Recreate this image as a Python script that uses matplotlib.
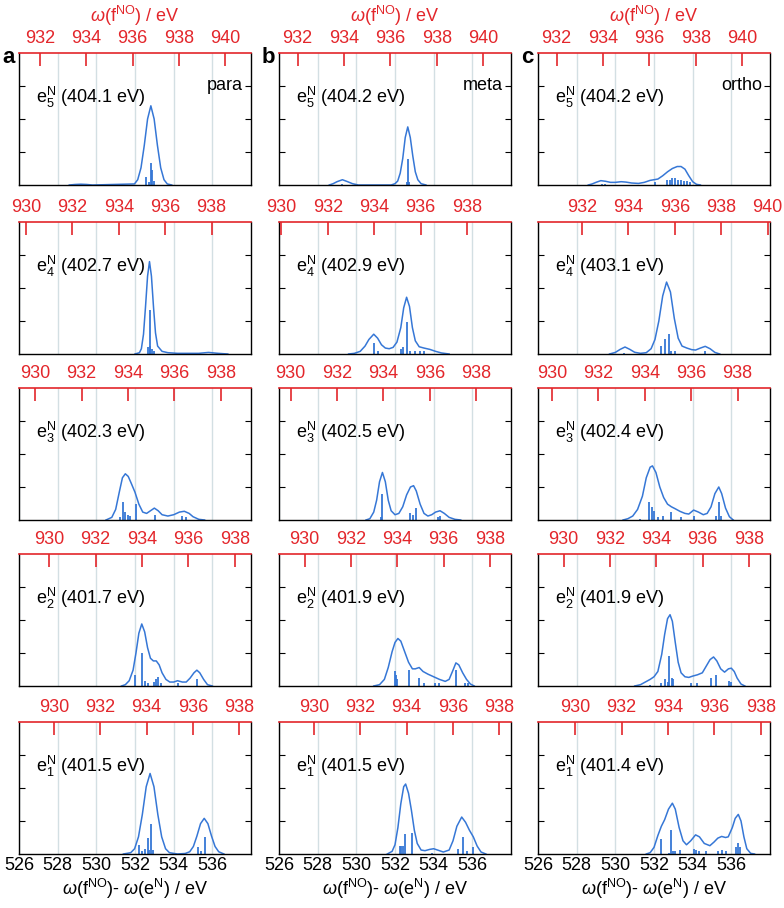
import matplotlib
matplotlib.use('Agg')
import matplotlib.pyplot as plt
from matplotlib.ticker import MultipleLocator

plt.rcParams['font.family'] = ['Liberation Sans', 'DejaVu Sans']
plt.rcParams['mathtext.fontset'] = 'custom'
plt.rcParams['mathtext.rm'] = 'Liberation Sans'
plt.rcParams['mathtext.it'] = 'Liberation Sans:italic'
plt.rcParams['mathtext.bf'] = 'Liberation Sans:bold'

# ---------------- data ----------------
isomers = ['para', 'meta', 'ortho']
panel_letters = ['a', 'b', 'c']
state_index = [5, 4, 3, 2, 1]
energies_para = [404.1, 402.7, 402.3, 401.7, 401.5]
energies_meta = [404.2, 402.9, 402.5, 401.9, 401.5]
energies_ortho = [404.2, 403.1, 402.4, 401.9, 401.4]
bottom_ticks = [526, 528, 530, 532, 534, 536]

# para
para5_cx = [528.6, 528.9, 529.2, 529.5, 529.8, 531.97, 532.14, 532.31, 532.48, 532.65, 532.82, 532.99, 533.16, 533.33, 533.5, 533.67, 533.9]
para5_cy = [0, 0.004, 0.006, 0.004, 0, 0.008, 0.04, 0.13, 0.30, 0.50, 0.60, 0.50, 0.30, 0.13, 0.04, 0.008, 0]
para5_sx = [532.58, 532.7, 532.83, 532.9, 532.97]
para5_sy = [0.06, 0.02, 0.17, 0.11, 0.03]

para4_cx = [532.0, 532.23, 532.33, 532.44, 532.54, 532.65, 532.75, 532.85, 532.96, 533.06, 533.17, 533.4, 533.7, 534.2, 535.3, 535.8, 536.3, 536.8]
para4_cy = [0, 0.01, 0.04, 0.15, 0.35, 0.59, 0.70, 0.59, 0.35, 0.16, 0.06, 0.02, 0.01, 0.005, 0.005, 0.012, 0.005, 0]
para4_sx = [532.68, 532.75, 532.8, 532.87, 533.0]
para4_sy = [0.05, 0.33, 0.06, 0.04, 0.02]

para3_cx = [530.5, 530.8, 531.0, 531.2, 531.35, 531.5, 531.65, 531.8, 532.0, 532.2, 532.4, 532.6, 532.8, 533.0, 533.2, 533.4, 533.7, 534.0, 534.3, 534.55, 534.8, 535.0, 535.3, 535.6]
para3_cy = [0, 0.02, 0.08, 0.22, 0.32, 0.35, 0.33, 0.28, 0.21, 0.12, 0.06, 0.05, 0.07, 0.09, 0.07, 0.04, 0.03, 0.04, 0.06, 0.066, 0.05, 0.025, 0.005, 0]
para3_sx = [531.2, 531.38, 531.5, 531.62, 531.75, 532.03, 533.02, 534.45, 534.65]
para3_sy = [0.02, 0.14, 0.06, 0.04, 0.03, 0.12, 0.04, 0.03, 0.02]

para2_cx = [531.3, 531.5, 531.7, 531.9, 532.05, 532.2, 532.35, 532.5, 532.65, 532.8, 532.95, 533.1, 533.25, 533.4, 533.6, 533.8, 534.0, 534.2, 534.45, 534.65, 534.85, 535.05, 535.2, 535.35, 535.55, 535.75, 536.0]
para2_cy = [0, 0.01, 0.04, 0.12, 0.25, 0.40, 0.47, 0.41, 0.29, 0.21, 0.19, 0.19, 0.16, 0.10, 0.05, 0.03, 0.03, 0.04, 0.03, 0.03, 0.06, 0.10, 0.12, 0.10, 0.05, 0.01, 0]
para2_sx = [532.02, 532.37, 532.5, 532.65, 532.97, 533.1, 533.2, 533.35, 534.2, 535.2]
para2_sy = [0.08, 0.25, 0.04, 0.02, 0.03, 0.05, 0.07, 0.02, 0.02, 0.05]

para1_cx = [531.4, 531.78, 531.98, 532.18, 532.38, 532.58, 532.78, 532.98, 533.18, 533.38, 533.58, 533.78, 534.2, 534.6, 534.83, 535.02, 535.2, 535.39, 535.58, 535.77, 535.96, 536.14, 536.33, 536.6]
para1_cy = [0, 0.01, 0.04, 0.13, 0.30, 0.51, 0.61, 0.51, 0.30, 0.13, 0.04, 0.01, 0, 0.004, 0.017, 0.057, 0.135, 0.23, 0.27, 0.23, 0.135, 0.057, 0.017, 0]
para1_sx = [532.2, 532.35, 532.5, 532.65, 532.73, 532.85, 532.92, 535.25, 535.4, 535.6]
para1_sy = [0.07, 0.02, 0.04, 0.12, 0.03, 0.23, 0.03, 0.05, 0.02, 0.13]

# meta
meta5_cx = [528.6, 528.8, 529.0, 529.28, 529.55, 529.8, 530.1, 531.8, 532.0, 532.14, 532.27, 532.4, 532.53, 532.66, 532.79, 532.92, 533.05, 533.18, 533.35, 533.6]
meta5_cy = [0, 0.01, 0.025, 0.04, 0.025, 0.01, 0, 0, 0.01, 0.03, 0.09, 0.2, 0.36, 0.44, 0.36, 0.22, 0.10, 0.04, 0.01, 0]
meta5_sx = [529.28, 532.6, 532.66, 532.72]
meta5_sy = [0.01, 0.02, 0.2, 0.02]

meta4_cx = [529.6, 529.9, 530.2, 530.45, 530.65, 530.9, 531.1, 531.3, 531.5, 531.7, 531.9, 532.1, 532.3, 532.45, 532.6, 532.75, 532.9, 533.05, 533.25, 533.5, 533.8, 534.1, 534.4, 534.8]
meta4_cy = [0, 0.005, 0.02, 0.06, 0.11, 0.15, 0.12, 0.07, 0.045, 0.04, 0.05, 0.09, 0.2, 0.35, 0.43, 0.36, 0.2, 0.1, 0.055, 0.045, 0.035, 0.02, 0.008, 0]
meta4_sx = [530.9, 531.1, 532.3, 532.4, 532.6, 532.75, 533.05, 533.3, 533.5]
meta4_sy = [0.08, 0.02, 0.04, 0.05, 0.24, 0.02, 0.02, 0.02, 0.02]

meta3_cx = [530.5, 530.7, 530.9, 531.05, 531.2, 531.35, 531.5, 531.65, 531.8, 532.0, 532.2, 532.4, 532.6, 532.8, 532.96, 533.1, 533.3, 533.5, 533.7, 533.9, 534.1, 534.33, 534.55, 534.8, 535.1, 535.4]
meta3_cy = [0, 0.01, 0.06, 0.15, 0.29, 0.36, 0.29, 0.15, 0.07, 0.04, 0.05, 0.1, 0.19, 0.25, 0.26, 0.22, 0.12, 0.05, 0.03, 0.04, 0.06, 0.07, 0.05, 0.02, 0.005, 0]
meta3_sx = [531.25, 531.35, 532.8, 532.95, 533.07, 534.2, 534.35]
meta3_sy = [0.02, 0.20, 0.05, 0.04, 0.09, 0.02, 0.03]

meta2_cx = [530.9, 531.2, 531.45, 531.65, 531.85, 532.0, 532.15, 532.3, 532.5, 532.7, 532.9, 533.05, 533.25, 533.45, 533.7, 534.0, 534.3, 534.6, 534.8, 535.0, 535.15, 535.3, 535.5, 535.7, 535.9, 536.1]
meta2_cy = [0, 0.01, 0.05, 0.14, 0.26, 0.33, 0.36, 0.34, 0.26, 0.18, 0.13, 0.13, 0.14, 0.11, 0.09, 0.07, 0.05, 0.035, 0.05, 0.12, 0.175, 0.16, 0.1, 0.05, 0.015, 0]
meta2_sx = [531.98, 532.05, 532.12, 532.72, 533.22, 533.5, 534.05, 534.3, 535.15, 535.6, 535.8]
meta2_sy = [0.11, 0.08, 0.05, 0.12, 0.06, 0.02, 0.02, 0.02, 0.12, 0.02, 0.02]

meta1_cx = [531.6, 531.85, 532.0, 532.15, 532.3, 532.45, 532.55, 532.7, 532.85, 533.0, 533.15, 533.35, 533.55, 533.8, 534.0, 534.2, 534.5, 534.8, 535.0, 535.2, 535.45, 535.65, 535.85, 536.05, 536.25, 536.45, 536.7]
meta1_cy = [0, 0.02, 0.07, 0.2, 0.38, 0.51, 0.53, 0.46, 0.33, 0.18, 0.08, 0.03, 0.025, 0.035, 0.04, 0.03, 0.015, 0.03, 0.1, 0.21, 0.28, 0.24, 0.18, 0.13, 0.06, 0.015, 0]
meta1_sx = [532.27, 532.33, 532.4, 532.52, 532.87, 533.9, 535.27, 535.5, 535.72, 536.03]
meta1_sy = [0.06, 0.06, 0.06, 0.15, 0.16, 0.01, 0.04, 0.13, 0.02, 0.05]

# ortho
ortho5_cx = [528.6, 528.8, 529.0, 529.25, 529.5, 529.75, 530.0, 530.3, 530.55, 530.85, 531.2, 531.5, 531.8, 532.0, 532.2, 532.45, 532.7, 532.95, 533.2, 533.4, 533.6, 533.8, 534.0, 534.2, 534.4]
ortho5_cy = [0, 0.008, 0.02, 0.033, 0.028, 0.02, 0.02, 0.025, 0.022, 0.015, 0.012, 0.02, 0.035, 0.04, 0.045, 0.07, 0.1, 0.125, 0.14, 0.14, 0.12, 0.07, 0.025, 0.005, 0]
ortho5_sx = [529.3, 529.45, 532.05, 532.65, 532.82, 532.95, 533.1, 533.25, 533.4, 533.55, 533.7, 533.85]
ortho5_sy = [0.01, 0.01, 0.02, 0.04, 0.04, 0.05, 0.05, 0.04, 0.04, 0.03, 0.03, 0.02]

ortho4_cx = [529.7, 530.0, 530.25, 530.5, 530.75, 531.0, 531.3, 531.6, 531.85, 532.05, 532.25, 532.45, 532.65, 532.85, 533.05, 533.25, 533.45, 533.7, 533.95, 534.15, 534.4, 534.65, 534.9, 535.15, 535.4]
ortho4_cy = [0, 0.012, 0.035, 0.053, 0.035, 0.013, 0.005, 0.01, 0.04, 0.11, 0.25, 0.44, 0.545, 0.47, 0.27, 0.12, 0.06, 0.045, 0.033, 0.03, 0.045, 0.058, 0.04, 0.012, 0]
ortho4_sx = [530.45, 532.38, 532.58, 532.76, 532.9, 533.1, 534.65]
ortho4_sy = [0.01, 0.06, 0.11, 0.15, 0.02, 0.02, 0.02]

ortho3_cx = [530.4, 530.65, 530.9, 531.15, 531.4, 531.6, 531.8, 531.92, 532.1, 532.3, 532.5, 532.7, 532.9, 533.1, 533.35, 533.6, 533.8, 534.05, 534.3, 534.55, 534.75, 534.95, 535.15, 535.35, 535.5, 535.7, 535.9, 536.1]
ortho3_cy = [0, 0.01, 0.03, 0.08, 0.18, 0.32, 0.4, 0.41, 0.36, 0.25, 0.17, 0.12, 0.1, 0.085, 0.065, 0.05, 0.045, 0.075, 0.06, 0.04, 0.05, 0.1, 0.2, 0.25, 0.2, 0.09, 0.025, 0]
ortho3_sx = [531.3, 531.75, 531.9, 532.0, 532.2, 532.45, 532.9, 533.4, 534.05, 535.2, 535.35, 535.45]
ortho3_sy = [0.01, 0.14, 0.1, 0.07, 0.02, 0.03, 0.06, 0.02, 0.03, 0.03, 0.135, 0.03]

ortho2_cx = [531.0, 531.3, 531.55, 531.8, 532.0, 532.2, 532.4, 532.55, 532.7, 532.83, 532.95, 533.1, 533.25, 533.4, 533.6, 533.8, 534.0, 534.25, 534.5, 534.7, 534.9, 535.08, 535.25, 535.45, 535.65, 535.85, 536.0, 536.15, 536.3, 536.5, 536.7]
ortho2_cy = [0, 0.01, 0.03, 0.05, 0.07, 0.11, 0.24, 0.39, 0.51, 0.54, 0.49, 0.33, 0.18, 0.1, 0.07, 0.065, 0.075, 0.085, 0.1, 0.15, 0.2, 0.22, 0.19, 0.13, 0.105, 0.13, 0.135, 0.11, 0.06, 0.015, 0]
ortho2_sx = [531.8, 532.35, 532.55, 532.7, 532.8, 532.92, 533.0, 533.9, 534.2, 534.95, 535.2, 535.9, 536.0]
ortho2_sy = [0.01, 0.02, 0.05, 0.03, 0.23, 0.06, 0.05, 0.02, 0.02, 0.06, 0.08, 0.04, 0.03]

ortho1_cx = [531.6, 531.8, 532.0, 532.2, 532.38, 532.55, 532.75, 532.95, 533.1, 533.3, 533.5, 533.68, 533.9, 534.15, 534.35, 534.6, 534.89, 535.1, 535.3, 535.5, 535.7, 535.84, 536.05, 536.2, 536.36, 536.5, 536.65, 536.8, 537.0, 537.2]
ortho1_cy = [0, 0.01, 0.05, 0.14, 0.21, 0.26, 0.34, 0.385, 0.34, 0.2, 0.1, 0.07, 0.1, 0.145, 0.13, 0.08, 0.063, 0.09, 0.12, 0.133, 0.125, 0.13, 0.2, 0.27, 0.3, 0.25, 0.13, 0.04, 0.005, 0]
ortho1_sx = [532.35, 532.75, 532.9, 533.0, 533.1, 533.35, 534.05, 534.15, 534.35, 534.7, 535.3, 535.5, 535.7, 536.25, 536.35, 536.45]
ortho1_sy = [0.11, 0.01, 0.18, 0.02, 0.02, 0.03, 0.04, 0.03, 0.02, 0.02, 0.02, 0.03, 0.02, 0.05, 0.08, 0.05]

curves = {
    'para': [(para5_cx, para5_cy, para5_sx, para5_sy), (para4_cx, para4_cy, para4_sx, para4_sy),
             (para3_cx, para3_cy, para3_sx, para3_sy), (para2_cx, para2_cy, para2_sx, para2_sy),
             (para1_cx, para1_cy, para1_sx, para1_sy)],
    'meta': [(meta5_cx, meta5_cy, meta5_sx, meta5_sy), (meta4_cx, meta4_cy, meta4_sx, meta4_sy),
             (meta3_cx, meta3_cy, meta3_sx, meta3_sy), (meta2_cx, meta2_cy, meta2_sx, meta2_sy),
             (meta1_cx, meta1_cy, meta1_sx, meta1_sy)],
    'ortho': [(ortho5_cx, ortho5_cy, ortho5_sx, ortho5_sy), (ortho4_cx, ortho4_cy, ortho4_sx, ortho4_sy),
              (ortho3_cx, ortho3_cy, ortho3_sx, ortho3_sy), (ortho2_cx, ortho2_cy, ortho2_sx, ortho2_sy),
              (ortho1_cx, ortho1_cy, ortho1_sx, ortho1_sy)],
}
energies = {'para': energies_para, 'meta': energies_meta, 'ortho': energies_ortho}

# ---------------- style / layout ----------------
BLUE = '#3677d6'
RED = '#e3262b'
GRID = '#d3dfe3'
W, H = 784, 908
col_left = [19, 279, 538]
row_top = [53, 222, 388, 554, 722]
pw, ph = 232, 132
FS = 13

fig = plt.figure(figsize=(W / 100, H / 100), dpi=100)

for c, iso in enumerate(isomers):
    for r in range(5):
        cx, cy, sx, sy = curves[iso][r]
        E = energies[iso][r]
        ax = fig.add_axes([col_left[c] / W, 1 - (row_top[r] + ph) / H, pw / W, ph / H])
        ax.set_xlim(526, 538)
        ax.set_ylim(0, 1)
        ax.set_xticks(bottom_ticks)
        ax.grid(axis='x', color=GRID, lw=1.0)
        ax.set_axisbelow(True)
        ax.set_yticks([0.25, 0.5, 0.75])
        ax.set_yticklabels([])
        ax.tick_params(axis='y', direction='in', length=4, width=0.8, left=True, right=True)
        ax.tick_params(axis='x', direction='in', length=0, labelsize=FS, pad=2,
                       labelbottom=(r == 4))
        ax.spines['top'].set_visible(False)
        for s in ['left', 'right', 'bottom']:
            ax.spines[s].set_linewidth(1.0)
        ax.vlines(sx, 0, sy, color=BLUE, lw=1.3)
        ax.plot(cx, cy, color=BLUE, lw=1.1)
        if r == 4:
            ax.set_xlabel(r'$\omega$(f$^{\mathrm{NO}}$)- $\omega$(e$^{\mathrm{N}}$) / eV', fontsize=FS, labelpad=2)
        ax.text(0.075, 0.66, r'e$_{%d}^{\mathrm{N}}$ (%.1f eV)' % (state_index[r], E),
                transform=ax.transAxes, fontsize=FS, ha='left', va='center')
        if r == 0:
            ax.text(0.965, 0.75, iso, transform=ax.transAxes, fontsize=FS, ha='right', va='center')

        top = ax.twiny()
        top.set_xlim(527 + E, 537 + E)
        top.xaxis.set_major_locator(MultipleLocator(2))
        top.tick_params(axis='x', direction='in', length=9, width=1.2, colors=RED,
                        labelsize=FS, pad=4)
        for s in ['left', 'right', 'bottom']:
            top.spines[s].set_visible(False)
        top.spines['top'].set_color(RED)
        top.spines['top'].set_linewidth(1.2)
        if r == 0:
            top.set_xlabel(r'$\omega$(f$^{\mathrm{NO}}$) / eV', color=RED, fontsize=FS, labelpad=6)

    fig.text((col_left[c] - 17) / W, 1 - 63 / H, panel_letters[c], fontsize=16,
             fontweight='bold', ha='left', va='baseline')

fig.savefig('out.png', dpi=100)
